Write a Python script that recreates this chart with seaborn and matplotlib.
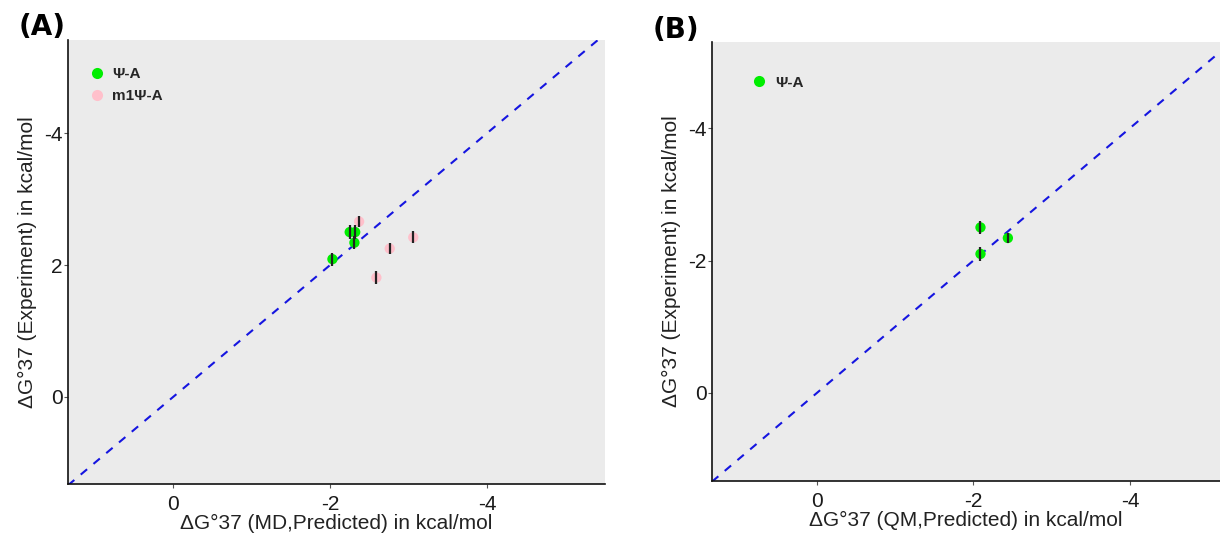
import matplotlib
matplotlib.use("Agg")
import matplotlib.pyplot as plt
import seaborn as sns
import pandas as pd
from matplotlib.lines import Line2D

# ---- data ----
a_labels = ["Ψ-A", "Ψ-A", "Ψ-A", "Ψ-A", "m1Ψ-A", "m1Ψ-A", "m1Ψ-A", "m1Ψ-A"]
a_pred = [-2.03, -2.25, -2.32, -2.31, -2.37, -2.76, -3.06, -2.59]
a_exp = [-2.09, -2.50, -2.50, -2.34, -2.66, -2.25, -2.42, -1.81]
a_err = [0.10, 0.11, 0.11, 0.10, 0.09, 0.08, 0.09, 0.10]

b_labels = ["Ψ-A", "Ψ-A", "Ψ-A"]
b_pred = [-2.09, -2.09, -2.44]
b_exp = [-2.50, -2.10, -2.34]
b_err = [0.10, 0.10, 0.07]

x_ticks = [0, -2, -4]
x_ticklabels = ["0", "-2", "-4"]
a_y_ticks = [0, -2, -4]
a_y_ticklabels = ["0", "2", "-4"]
b_y_ticks = [0, -2, -4]
b_y_ticklabels = ["0", "-2", "-4"]

palette = {"Ψ-A": "#00EE00", "m1Ψ-A": "#FFC0CB"}

sns.set_style("ticks")
plt.rcParams["font.family"] = ["Liberation Sans", "DejaVu Sans"]

fig = plt.figure(figsize=(12.2, 5.36), dpi=100)
axA = fig.add_axes([0.0557, 0.097, 0.440, 0.828])
axB = fig.add_axes([0.5836, 0.1026, 0.4164, 0.819])


def draw(ax, labels, pred, exp, err, xlim, ylim, yticks, yticklabels, xlabel, order):
    df = pd.DataFrame({"grp": labels, "pred": pred, "exp": exp, "err": err})
    ax.set_facecolor("#EBEBEB")
    ax.plot([xlim[0], xlim[1]], [xlim[0], xlim[1]], ls=(0, (4, 4)), color="#1515E0", lw=1.5, zorder=1)
    for g in order[::-1]:
        sub = df[df.grp == g]
        sns.scatterplot(data=sub, x="pred", y="exp", color=palette[g], s=55, edgecolor="none",
                        ax=ax, zorder=2, legend=False)
    ax.errorbar(df.pred, df.exp, yerr=df.err, fmt="none", ecolor="#222222", elinewidth=1.6, capsize=0, zorder=3)
    ax.set_xlim(*xlim)
    ax.set_ylim(*ylim)
    ax.set_xticks(x_ticks)
    ax.set_xticklabels(x_ticklabels)
    ax.set_yticks(yticks)
    ax.set_yticklabels(yticklabels)
    ax.tick_params(axis="both", labelsize=15, color="#555555", length=3, width=0.8, direction="out",
                   labelcolor="#1a1a1a", bottom=True, left=True)
    ax.tick_params(axis="x", pad=5)
    ax.tick_params(axis="y", pad=1)
    for s in ["top", "right"]:
        ax.spines[s].set_visible(False)
    for s in ["left", "bottom"]:
        ax.spines[s].set_color("#111111")
        ax.spines[s].set_linewidth(1.2)
    ax.set_xlabel(xlabel, fontsize=15, labelpad=0, color="#222222")
    ax.set_ylabel("ΔG°37 (Experiment) in kcal/mol", fontsize=15, labelpad=5, color="#222222")
    handles = [Line2D([0], [0], marker="o", ls="none", markersize=8, markerfacecolor=palette[g],
                      markeredgecolor="none", label=g) for g in order]
    return handles


hA = draw(axA, a_labels, a_pred, a_exp, a_err, (1.34, -5.5), (1.32, -5.41),
          a_y_ticks, a_y_ticklabels, "ΔG°37 (MD,Predicted) in kcal/mol", ["Ψ-A", "m1Ψ-A"])
legA = axA.legend(handles=hA, loc="upper left", bbox_to_anchor=(0.0, 0.97), frameon=False,
                  prop={"weight": "bold", "size": 11}, handletextpad=0.0, labelspacing=0.5,
                  borderaxespad=0.5)

hB = draw(axB, b_labels, b_pred, b_exp, b_err, (1.34, -5.15), (1.33, -5.30),
          b_y_ticks, b_y_ticklabels, "ΔG°37 (QM,Predicted) in kcal/mol", ["Ψ-A"])
legB = axB.legend(handles=hB, loc="upper left", bbox_to_anchor=(0.035, 0.955), frameon=False,
                  prop={"weight": "bold", "size": 11}, handletextpad=0.1, borderaxespad=0.5)

fig.text(0.015, 0.935, "(A)", fontsize=20, fontweight="bold", family="DejaVu Sans", color="black")
fig.text(0.535, 0.93, "(B)", fontsize=20, fontweight="bold", family="DejaVu Sans", color="black")

fig.savefig("out.png", dpi=100)
